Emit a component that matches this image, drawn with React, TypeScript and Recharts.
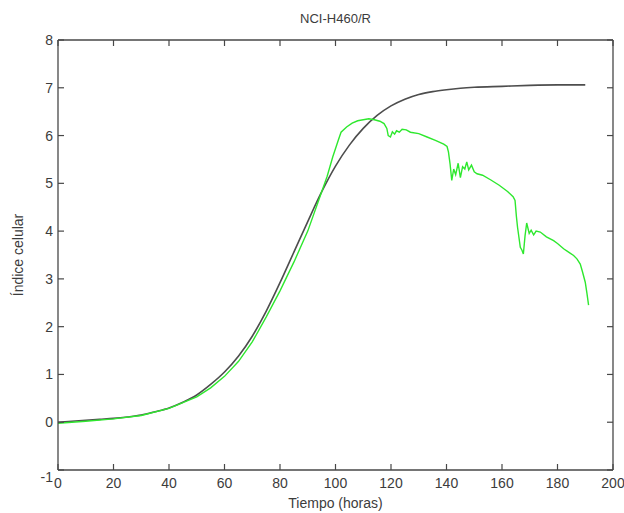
import React from 'react';
import { LineChart, Line, XAxis, YAxis } from 'recharts';

const blackTime = [0, 5, 10, 15, 20, 25, 30, 35, 40, 45, 50, 55, 60, 65, 70, 75, 80, 85, 90, 95, 100, 105, 110, 115, 120, 125, 130, 135, 140, 145, 150, 160, 170, 180, 190];
const blackValues = [0.0, 0.02, 0.04, 0.06, 0.08, 0.11, 0.15, 0.22, 0.3, 0.42, 0.57, 0.79, 1.05, 1.38, 1.8, 2.32, 2.92, 3.56, 4.2, 4.82, 5.36, 5.8, 6.15, 6.42, 6.62, 6.76, 6.86, 6.92, 6.96, 6.99, 7.01, 7.03, 7.05, 7.06, 7.06];

const greenTime = [0, 10, 20, 30, 40, 50, 55, 60, 65, 70, 75, 80, 85, 90, 95, 97, 99, 101, 102, 104, 106, 108, 110, 112, 114, 116, 117.5, 118.5, 119, 119.8, 120.5, 121.3, 122, 123, 124, 125.5, 127, 130, 133, 136, 139, 140.2, 140.7, 141.3, 141.9, 142.6, 143.3, 144.2, 145, 145.8, 146.6, 147.3, 148, 149, 150, 151, 153, 156, 159, 162, 164, 164.7, 165.2, 165.6, 166.6, 167.2, 167.7, 168.3, 168.9, 169.8, 170.5, 171.4, 172.3, 173.8, 176, 178.6, 180, 182.2, 184, 185.8, 187, 188.2, 189, 190, 190.6, 191.2];
const greenValues = [-0.02, 0.02, 0.07, 0.14, 0.29, 0.53, 0.72, 0.96, 1.27, 1.68, 2.2, 2.75, 3.35, 4.0, 4.82, 5.15, 5.55, 5.9, 6.07, 6.18, 6.26, 6.31, 6.33, 6.35, 6.33, 6.3, 6.25, 6.15, 6.0, 5.97, 6.08, 6.03, 6.1, 6.07, 6.13, 6.12, 6.07, 6.04, 5.97, 5.9, 5.82, 5.77, 5.66, 5.4, 5.06, 5.3, 5.18, 5.42, 5.12, 5.35, 5.3, 5.45, 5.28, 5.38, 5.24, 5.2, 5.17, 5.07, 4.96, 4.83, 4.72, 4.64, 4.3, 4.08, 3.66, 3.6, 3.52, 3.9, 4.17, 3.95, 4.02, 3.92, 4.0, 3.98, 3.88, 3.8, 3.74, 3.63, 3.56, 3.49, 3.42, 3.31, 3.15, 2.93, 2.7, 2.45];

const xTicks = [0, 20, 40, 60, 80, 100, 120, 140, 160, 180, 200];
const yTicks = [-1, 0, 1, 2, 3, 4, 5, 6, 7, 8];

const titleText = 'NCI-H460/R';
const xLabelText = 'Tiempo (horas)';
const yLabelText = 'Índice celular';

const blackData = blackTime.map((t, i) => ({ t, v: blackValues[i] }));
const greenData = greenTime.map((t, i) => ({ t, v: greenValues[i] }));

const FONT = '"Liberation Sans", Arial, sans-serif';
const AXIS = '#474747';
const TEXT = '#3c3c3c';
const TL = 6;

const W = 624;
const H = 513;
const M = { top: 39, right: 10, bottom: 42, left: 57 };

const BottomTick = (props: any) => {
  const { x, y, payload } = props;
  return (
    <g>
      <line x1={x} x2={x} y1={y} y2={y - TL} stroke={AXIS} strokeWidth={1.2} />
      <text x={x} y={y + 18} textAnchor="middle" fontSize={14} fill={TEXT} fontFamily={FONT}>
        {payload.value}
      </text>
    </g>
  );
};

const LeftTick = (props: any) => {
  const { x, y, payload } = props;
  const extra = payload.value === -1 ? 7 : 0;
  return (
    <g>
      <line x1={x} x2={x + TL} y1={y} y2={y} stroke={AXIS} strokeWidth={1.2} />
      <text x={x - 5} y={y + 5 + extra} textAnchor="end" fontSize={14} fill={TEXT} fontFamily={FONT}>
        {payload.value}
      </text>
    </g>
  );
};

const TopTick = (props: any) => {
  const { x, y } = props;
  return <line x1={x} x2={x} y1={y} y2={y + TL} stroke={AXIS} strokeWidth={1.2} />;
};

const RightTick = (props: any) => {
  const { x, y } = props;
  return <line x1={x} x2={x - TL} y1={y} y2={y} stroke={AXIS} strokeWidth={1.2} />;
};

export default function App() {
  const plotCx = 58 + (613 - 58) / 2;
  const plotCy = 40 + (470 - 40) / 2;
  return (
    <div style={{ position: 'absolute', left: 0, top: 0, width: W, height: H, background: '#fff' }}>
      <LineChart width={W} height={H} margin={M}>
        <XAxis
          xAxisId="b"
          type="number"
          dataKey="t"
          domain={[0, 200]}
          ticks={xTicks}
          interval={0}
          allowDataOverflow
          height={1}
          tickSize={0}
          tickMargin={0}
          tickLine={false}
          axisLine={{ stroke: AXIS, strokeWidth: 1.3 }}
          tick={<BottomTick />}
        />
        <XAxis
          xAxisId="top"
          orientation="top"
          type="number"
          dataKey="t"
          domain={[0, 200]}
          ticks={xTicks}
          interval={0}
          allowDataOverflow
          height={1}
          tickSize={0}
          tickMargin={0}
          tickLine={false}
          axisLine={{ stroke: AXIS, strokeWidth: 1.3 }}
          tick={<TopTick />}
        />
        <YAxis
          yAxisId="l"
          type="number"
          domain={[-1, 8]}
          ticks={yTicks}
          interval={0}
          allowDataOverflow
          width={1}
          tickSize={0}
          tickMargin={0}
          tickLine={false}
          axisLine={{ stroke: AXIS, strokeWidth: 1.3 }}
          tick={<LeftTick />}
        />
        <YAxis
          yAxisId="r"
          orientation="right"
          type="number"
          domain={[-1, 8]}
          ticks={yTicks}
          interval={0}
          allowDataOverflow
          width={1}
          tickSize={0}
          tickMargin={0}
          tickLine={false}
          axisLine={{ stroke: AXIS, strokeWidth: 1.3 }}
          tick={<RightTick />}
        />
        <Line
          xAxisId="b"
          yAxisId="l"
          data={blackData}
          dataKey="v"
          type="monotone"
          stroke="#4d4d4d"
          strokeWidth={1.6}
          dot={false}
          activeDot={false}
          isAnimationActive={false}
        />
        <Line
          xAxisId="b"
          yAxisId="l"
          data={greenData}
          dataKey="v"
          type="linear"
          stroke="#2ee82e"
          strokeWidth={1.4}
          dot={false}
          activeDot={false}
          isAnimationActive={false}
        />
      </LineChart>
      <svg width={W} height={H} style={{ position: 'absolute', left: 0, top: 0, pointerEvents: 'none' }}>
        <text x={plotCx} y={23} textAnchor="middle" fontSize={13} fill={TEXT} fontFamily={FONT}>
          {titleText}
        </text>
        <text x={plotCx} y={508} textAnchor="middle" fontSize={14} fill={TEXT} fontFamily={FONT}>
          {xLabelText}
        </text>
        <text
          x={23}
          y={plotCy}
          textAnchor="middle"
          fontSize={14}
          fill={TEXT}
          fontFamily={FONT}
          transform={`rotate(-90 23 ${plotCy})`}
        >
          {yLabelText}
        </text>
      </svg>
    </div>
  );
}
